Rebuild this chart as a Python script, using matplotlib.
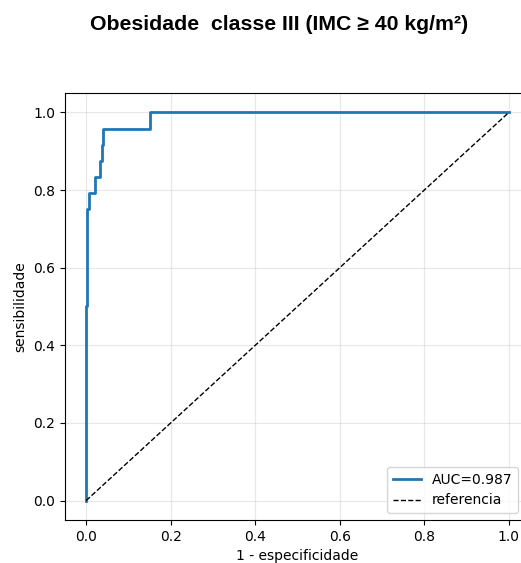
import matplotlib
matplotlib.use("Agg")
import matplotlib.pyplot as plt

# ROC curve points (false positive rate, true positive rate)
fpr = [0.0, 0.0, 0.003, 0.003, 0.006, 0.006, 0.021, 0.021, 0.033, 0.033,
       0.037, 0.037, 0.039, 0.039, 0.151, 0.151, 1.0]
tpr = [0.0, 0.5, 0.5, 0.75, 0.75, 0.792, 0.792, 0.833, 0.833, 0.875,
       0.875, 0.917, 0.917, 0.958, 0.958, 1.0, 1.0]
auc_value = 0.987
ref_x = [0.0, 1.0]
ref_y = [0.0, 1.0]

title = "Obesidade  classe III (IMC \u2265 40 kg/m\u00b2)"

W, H = 521, 563
fig = plt.figure(figsize=(W / 100, H / 100), dpi=100)
# the axes box runs slightly past the right edge of the canvas
ax = fig.add_axes([65 / W, 43 / H, 465 / W, 427 / H])

ax.plot(fpr, tpr, color="#1f77b4", linewidth=2, label=f"AUC={auc_value:.3f}")
ax.plot(ref_x, ref_y, "k--", linewidth=1, label="referencia")
ax.set_xlim(-0.05, 1.05)
ax.set_ylim(-0.05, 1.05)
ax.set_xticks([0.0, 0.2, 0.4, 0.6, 0.8, 1.0])
ax.set_yticks([0.0, 0.2, 0.4, 0.6, 0.8, 1.0])
ax.grid(True, alpha=0.3)
ax.set_xlabel("1 - especificidade")
ax.set_ylabel("sensibilidade")
ax.legend(loc="lower right", bbox_to_anchor=(518 / W, (H - 513) / H),
          bbox_transform=fig.transFigure, borderaxespad=0)

fig.text(279 / W, 1 - 25 / H, title, ha="center", va="center",
         fontsize=15.3, fontweight="bold", family="Liberation Sans")

fig.savefig("out.png", dpi=100)
